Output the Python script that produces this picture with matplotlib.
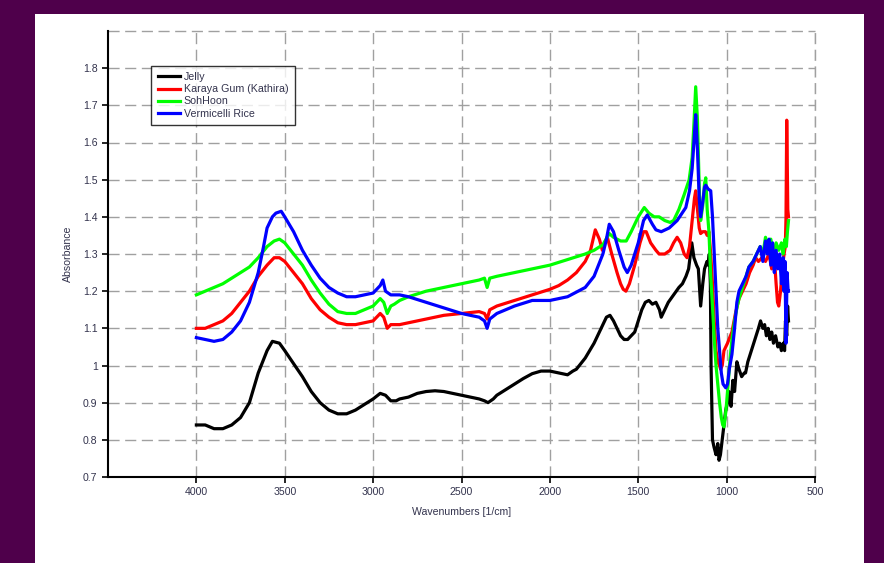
import matplotlib
matplotlib.use('Agg')
import matplotlib.pyplot as plt
from matplotlib.patches import Rectangle
from matplotlib.ticker import FuncFormatter

plt.rcParams['font.family'] = ['Liberation Sans', 'DejaVu Sans']

# wavenumber / absorbance control points
jelly_x = [4000, 3950, 3900, 3850, 3800, 3750, 3700, 3650, 3600, 3570, 3530, 3500, 3450, 3400, 3350,
           3300, 3250, 3200, 3150, 3100, 3050, 3000, 2960, 2930, 2900, 2870, 2850, 2800, 2750, 2700,
           2650, 2600, 2550, 2500, 2450, 2400, 2370, 2350, 2320, 2300, 2250, 2200, 2150, 2100, 2050,
           2000, 1950, 1900, 1870, 1850, 1800, 1750, 1700, 1680, 1660, 1640, 1620, 1600, 1580, 1560,
           1540, 1520, 1500, 1480, 1460, 1440, 1420, 1400, 1380, 1370, 1350, 1330, 1300, 1270, 1250,
           1230, 1215, 1197, 1185, 1170, 1160, 1147, 1135, 1125, 1111, 1105, 1098, 1092, 1088, 1080,
           1071, 1060, 1050, 1043, 1035, 1020, 1005, 995, 987, 975, 965, 955, 942, 930, 915, 900,
           893, 880, 860, 840, 820, 808, 795, 785, 775, 765, 755, 745, 735, 723, 710, 700, 690, 680,
           672, 667, 660, 655, 650]
jelly_y = [0.84, 0.84, 0.83, 0.83, 0.84, 0.86, 0.90, 0.98, 1.04, 1.065, 1.06, 1.04, 1.005, 0.97, 0.93,
           0.90, 0.88, 0.87, 0.87, 0.88, 0.895, 0.91, 0.925, 0.92, 0.905, 0.905, 0.91, 0.915, 0.925, 0.93,
           0.932, 0.93, 0.925, 0.92, 0.915, 0.91, 0.905, 0.90, 0.91, 0.92, 0.935, 0.95, 0.965, 0.978, 0.985,
           0.985, 0.98, 0.975, 0.985, 0.99, 1.02, 1.06, 1.11, 1.13, 1.135, 1.12, 1.10, 1.08, 1.07, 1.07,
           1.08, 1.09, 1.12, 1.15, 1.17, 1.175, 1.165, 1.17, 1.15, 1.13, 1.15, 1.17, 1.19, 1.21, 1.22,
           1.24, 1.26, 1.33, 1.29, 1.27, 1.26, 1.16, 1.22, 1.26, 1.28, 1.27, 1.30, 1.22, 1.00, 0.80,
           0.78, 0.76, 0.79, 0.745, 0.76, 0.82, 0.88, 0.90, 0.93, 0.89, 0.96, 0.93, 1.01, 0.99, 0.97, 0.98,
           0.98, 1.01, 1.04, 1.07, 1.10, 1.12, 1.10, 1.11, 1.08, 1.10, 1.07, 1.09, 1.06, 1.08, 1.05, 1.06,
           1.04, 1.06, 1.04, 1.12, 1.08, 1.16, 1.12]

karaya_x = [4000, 3950, 3900, 3850, 3800, 3750, 3700, 3650, 3600, 3560, 3530, 3500, 3450, 3400, 3350,
            3300, 3250, 3200, 3150, 3100, 3050, 3000, 2960, 2940, 2920, 2900, 2850, 2800, 2700, 2600,
            2500, 2400, 2370, 2355, 2340, 2300, 2200, 2100, 2000, 1950, 1900, 1850, 1800, 1770, 1743,
            1720, 1703, 1690, 1675, 1650, 1620, 1600, 1585, 1570, 1550, 1520, 1490, 1470, 1455, 1430,
            1400, 1382, 1350, 1320, 1300, 1280, 1260, 1240, 1224, 1210, 1195, 1182, 1175, 1165, 1155,
            1147, 1135, 1120, 1110, 1100, 1090, 1080, 1070, 1060, 1050, 1040, 1034, 1025, 1015, 1005,
            995, 987, 970, 950, 930, 910, 890, 870, 850, 836, 820, 800, 780, 760, 745, 730, 720, 712,
            705, 695, 685, 675, 668, 664, 660, 657, 654, 650]
karaya_y = [1.10, 1.10, 1.11, 1.12, 1.14, 1.17, 1.20, 1.24, 1.27, 1.29, 1.29, 1.28, 1.25, 1.22, 1.18,
            1.15, 1.13, 1.115, 1.11, 1.11, 1.115, 1.12, 1.14, 1.13, 1.10, 1.11, 1.11, 1.115, 1.125, 1.135,
            1.14, 1.145, 1.14, 1.125, 1.15, 1.16, 1.175, 1.19, 1.205, 1.215, 1.23, 1.25, 1.28, 1.31, 1.365,
            1.34, 1.31, 1.33, 1.345, 1.30, 1.25, 1.22, 1.205, 1.20, 1.22, 1.27, 1.33, 1.36, 1.36, 1.33,
            1.31, 1.30, 1.30, 1.31, 1.33, 1.345, 1.33, 1.30, 1.29, 1.32, 1.39, 1.45, 1.47, 1.42, 1.37,
            1.355, 1.36, 1.36, 1.35, 1.36, 1.30, 1.22, 1.12, 1.04, 1.01, 1.00, 0.99, 1.00, 1.04, 1.05,
            1.06, 1.07, 1.09, 1.14, 1.18, 1.20, 1.22, 1.25, 1.27, 1.29, 1.28, 1.29, 1.28, 1.30, 1.26, 1.29,
            1.22, 1.17, 1.16, 1.20, 1.26, 1.30, 1.32, 1.40, 1.66, 1.55, 1.42, 1.40]

sohhoon_x = [4000, 3950, 3900, 3850, 3800, 3750, 3700, 3650, 3600, 3560, 3530, 3500, 3450, 3400, 3350,
             3300, 3250, 3200, 3150, 3100, 3050, 3000, 2960, 2940, 2920, 2900, 2880, 2850, 2800, 2700,
             2600, 2500, 2400, 2370, 2355, 2340, 2300, 2200, 2100, 2000, 1900, 1800, 1750, 1700, 1664,
             1640, 1600, 1568, 1540, 1500, 1466, 1440, 1410, 1382, 1350, 1320, 1300, 1270, 1240, 1212,
             1195, 1185, 1175, 1165, 1155, 1147, 1135, 1125, 1118, 1110, 1100, 1090, 1080, 1070, 1060,
             1050, 1040, 1030, 1022, 1015, 1008, 1000, 990, 980, 970, 955, 940, 930, 910, 890, 874, 850,
             830, 810, 795, 780, 765, 750, 735, 720, 705, 690, 680, 670, 662, 656, 650]
sohhoon_y = [1.19, 1.20, 1.21, 1.22, 1.235, 1.25, 1.265, 1.29, 1.32, 1.335, 1.34, 1.33, 1.30, 1.27, 1.23,
             1.195, 1.165, 1.145, 1.14, 1.14, 1.15, 1.16, 1.18, 1.17, 1.14, 1.16, 1.165, 1.175, 1.185, 1.20,
             1.21, 1.22, 1.23, 1.235, 1.21, 1.235, 1.24, 1.25, 1.26, 1.27, 1.285, 1.30, 1.31, 1.325, 1.355,
             1.345, 1.335, 1.335, 1.36, 1.40, 1.425, 1.41, 1.40, 1.40, 1.39, 1.385, 1.39, 1.42, 1.46, 1.50,
             1.56, 1.65, 1.75, 1.66, 1.48, 1.39, 1.43, 1.49, 1.505, 1.42, 1.36, 1.24, 1.16, 1.07, 1.00,
             0.95, 0.90, 0.86, 0.84, 0.835, 0.86, 0.90, 0.96, 1.02, 1.07, 1.12, 1.16, 1.18, 1.21, 1.24,
             1.265, 1.28, 1.30, 1.32, 1.30, 1.345, 1.32, 1.34, 1.30, 1.33, 1.31, 1.33, 1.30, 1.34, 1.32,
             1.36, 1.39]

vermicelli_x = [4000, 3950, 3900, 3850, 3800, 3750, 3700, 3650, 3620, 3600, 3570, 3550, 3520, 3500, 3450,
                3400, 3350, 3300, 3250, 3200, 3150, 3100, 3050, 3000, 2960, 2945, 2930, 2900, 2850, 2800,
                2700, 2600, 2500, 2400, 2370, 2355, 2340, 2300, 2200, 2100, 2000, 1900, 1800, 1750, 1700,
                1680, 1664, 1640, 1610, 1580, 1562, 1540, 1500, 1470, 1449, 1420, 1400, 1370, 1325, 1280,
                1231, 1210, 1195, 1185, 1175, 1165, 1155, 1147, 1135, 1125, 1118, 1105, 1090, 1080, 1070,
                1060, 1050, 1040, 1030, 1020, 1005, 995, 985, 970, 955, 942, 930, 910, 890, 874, 850, 830,
                810, 795, 780, 770, 760, 750, 740, 730, 720, 710, 700, 690, 680, 675, 670, 664, 658, 652,
                650]
vermicelli_y = [1.075, 1.07, 1.065, 1.07, 1.09, 1.12, 1.17, 1.25, 1.32, 1.37, 1.40, 1.41, 1.415, 1.40, 1.36,
                1.31, 1.27, 1.235, 1.21, 1.195, 1.185, 1.185, 1.19, 1.195, 1.215, 1.23, 1.20, 1.19, 1.19, 1.185,
                1.17, 1.155, 1.14, 1.13, 1.12, 1.10, 1.125, 1.14, 1.16, 1.175, 1.175, 1.185, 1.21, 1.24, 1.30,
                1.34, 1.38, 1.36, 1.31, 1.265, 1.25, 1.27, 1.33, 1.39, 1.405, 1.38, 1.365, 1.36, 1.37, 1.39,
                1.425, 1.47, 1.53, 1.60, 1.675, 1.58, 1.45, 1.40, 1.44, 1.48, 1.485, 1.475, 1.47, 1.40, 1.30,
                1.20, 1.10, 1.04, 0.98, 0.95, 0.94, 0.95, 0.99, 1.03, 1.10, 1.17, 1.20, 1.22, 1.24, 1.265,
                1.28, 1.30, 1.32, 1.28, 1.335, 1.30, 1.34, 1.27, 1.33, 1.25, 1.31, 1.26, 1.30, 1.22, 1.29,
                1.20, 1.28, 1.06, 1.25, 1.20, 1.20]

names = ['Jelly', 'Karaya Gum (Kathira)', 'SohHoon', 'Vermicelli Rice']
colors = ['#000000', '#ff0000', '#00ff00', '#0000ff']
xticks = [4000, 3500, 3000, 2500, 2000, 1500, 1000, 500]
yticks = [0.7, 0.8, 0.9, 1.0, 1.1, 1.2, 1.3, 1.4, 1.5, 1.6, 1.7, 1.8]

fig = plt.figure(figsize=(8.84, 5.63), dpi=100, facecolor='#4f004b')
# white sheet behind the chart
fig.patches.append(Rectangle((35 / 884, 0), 829 / 884, 549 / 563, transform=fig.transFigure,
                             facecolor='white', edgecolor='none', zorder=-10))
ax = fig.add_axes([108 / 884, 86 / 563, 707 / 884, 446 / 563])
ax.set_facecolor('white')

series = [(jelly_x, jelly_y), (karaya_x, karaya_y), (sohhoon_x, sohhoon_y), (vermicelli_x, vermicelli_y)]
for (xs, ys), name, c in zip(series, names, colors):
    ax.plot(xs, ys, color=c, lw=2.3, label=name, zorder=3)

ax.set_xlim(4500, 500)
ax.set_ylim(0.7, 1.9)
ax.set_xticks(xticks)
ax.set_yticks(yticks)
ax.yaxis.set_major_formatter(FuncFormatter(lambda v, p: '%g' % round(v, 2)))

grid_kw = dict(color='#a0a0a0', lw=1.0, dashes=(8, 4))
ax.grid(True, **grid_kw)
ax.axhline(1.9, clip_on=False, **grid_kw)
ax.axvline(500, clip_on=False, **grid_kw)
for s in ['top', 'right']:
    ax.spines[s].set_visible(False)
for s in ['left', 'bottom']:
    ax.spines[s].set_linewidth(1.5)
    ax.spines[s].set_zorder(4)

ax.tick_params(direction='out', length=4, width=1.2, labelsize=7.6, labelcolor='#33334d', color='black')
ax.set_xlabel('Wavenumbers [1/cm]', fontsize=7.6, color='#33334d', labelpad=7)
ax.set_ylabel('Absorbance', fontsize=7.6, color='#33334d', labelpad=7)

leg = ax.legend(loc='upper left', bbox_to_anchor=(0.061, 0.922), fontsize=7.7, frameon=True,
                fancybox=False, borderpad=0.6, handlelength=2.1, handletextpad=0.35,
                labelspacing=0.2, borderaxespad=0)
leg.get_frame().set_edgecolor('black')
leg.get_frame().set_linewidth(1.0)
for t in leg.get_texts():
    t.set_color('#33334d')

plt.savefig('out.png', dpi=100, facecolor=fig.get_facecolor())
